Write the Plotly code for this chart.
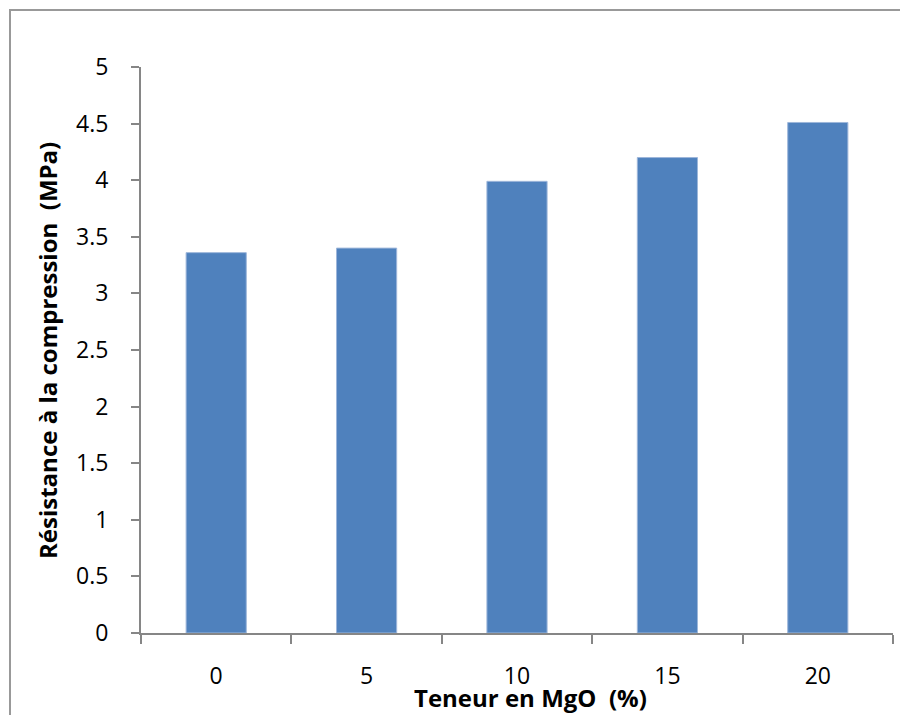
import plotly.graph_objects as go

categories = ["0", "5", "10", "15", "20"]
values = [3.36, 3.40, 3.99, 4.20, 4.51]
y_ticks = [0, 0.5, 1, 1.5, 2, 2.5, 3, 3.5, 4, 4.5, 5]
y_tick_labels = ["0", "0.5", "1", "1.5", "2", "2.5", "3", "3.5", "4", "4.5", "5"]

FONT = "'Open Sans', Lato, sans-serif"
AXIS = "#868686"

# page offset (body margin) compensated: plot area spans page x 141..893, y 67..633
W, H = 900, 707
PL, PT, PW, PH = 133, 59, 752, 566

fig = go.Figure(go.Bar(
    x=categories, y=values, width=0.4,
    marker=dict(color="#4F81BD", line=dict(color="#9DB6DA", width=1)),
))

def px(xp):  # page x -> paper
    return (xp - 141) / PW

def py(yp):  # page y -> paper
    return (633 - yp) / PH

fig.update_layout(
    width=W, height=H,
    margin=dict(l=PL, r=W - PL - PW, t=PT, b=H - PT - PH),
    paper_bgcolor="white", plot_bgcolor="white",
    showlegend=False,
    font=dict(family=FONT, size=21, color="#000000"),
    xaxis=dict(
        type="category", tickson="boundaries",
        showline=True, linecolor=AXIS, linewidth=2,
        ticks="outside", ticklen=9, tickcolor=AXIS, tickwidth=2,
        ticklabelstandoff=21,
        tickfont=dict(family=FONT, size=23),
        showgrid=False, zeroline=False,
    ),
    yaxis=dict(
        range=[0, 5], tickvals=y_ticks, ticktext=y_tick_labels,
        showline=True, linecolor=AXIS, linewidth=2,
        ticks="outside", ticklen=8, tickcolor=AXIS, tickwidth=2,
        ticklabelstandoff=18,
        tickfont=dict(family=FONT, size=23),
        showgrid=False, zeroline=False,
    ),
    annotations=[
        dict(text="<b>Teneur en MgO&nbsp; (%)</b>", xref="paper", yref="paper",
             x=px(530), y=py(697), xanchor="center", yanchor="middle",
             showarrow=False, font=dict(family=FONT, size=24)),
        dict(text="<b>Résistance à la compression&nbsp; (MPa)</b>", xref="paper", yref="paper",
             x=px(47), y=py(351), xanchor="center", yanchor="middle", textangle=-90,
             showarrow=False, font=dict(family=FONT, size=24)),
    ],
    shapes=[
        dict(type="rect", xref="paper", yref="paper",
             x0=px(10), x1=px(960), y0=py(760), y1=py(10),
             line=dict(color="#999999", width=2), fillcolor="rgba(0,0,0,0)", layer="below"),
    ],
)

fig.write_html("out.html")
